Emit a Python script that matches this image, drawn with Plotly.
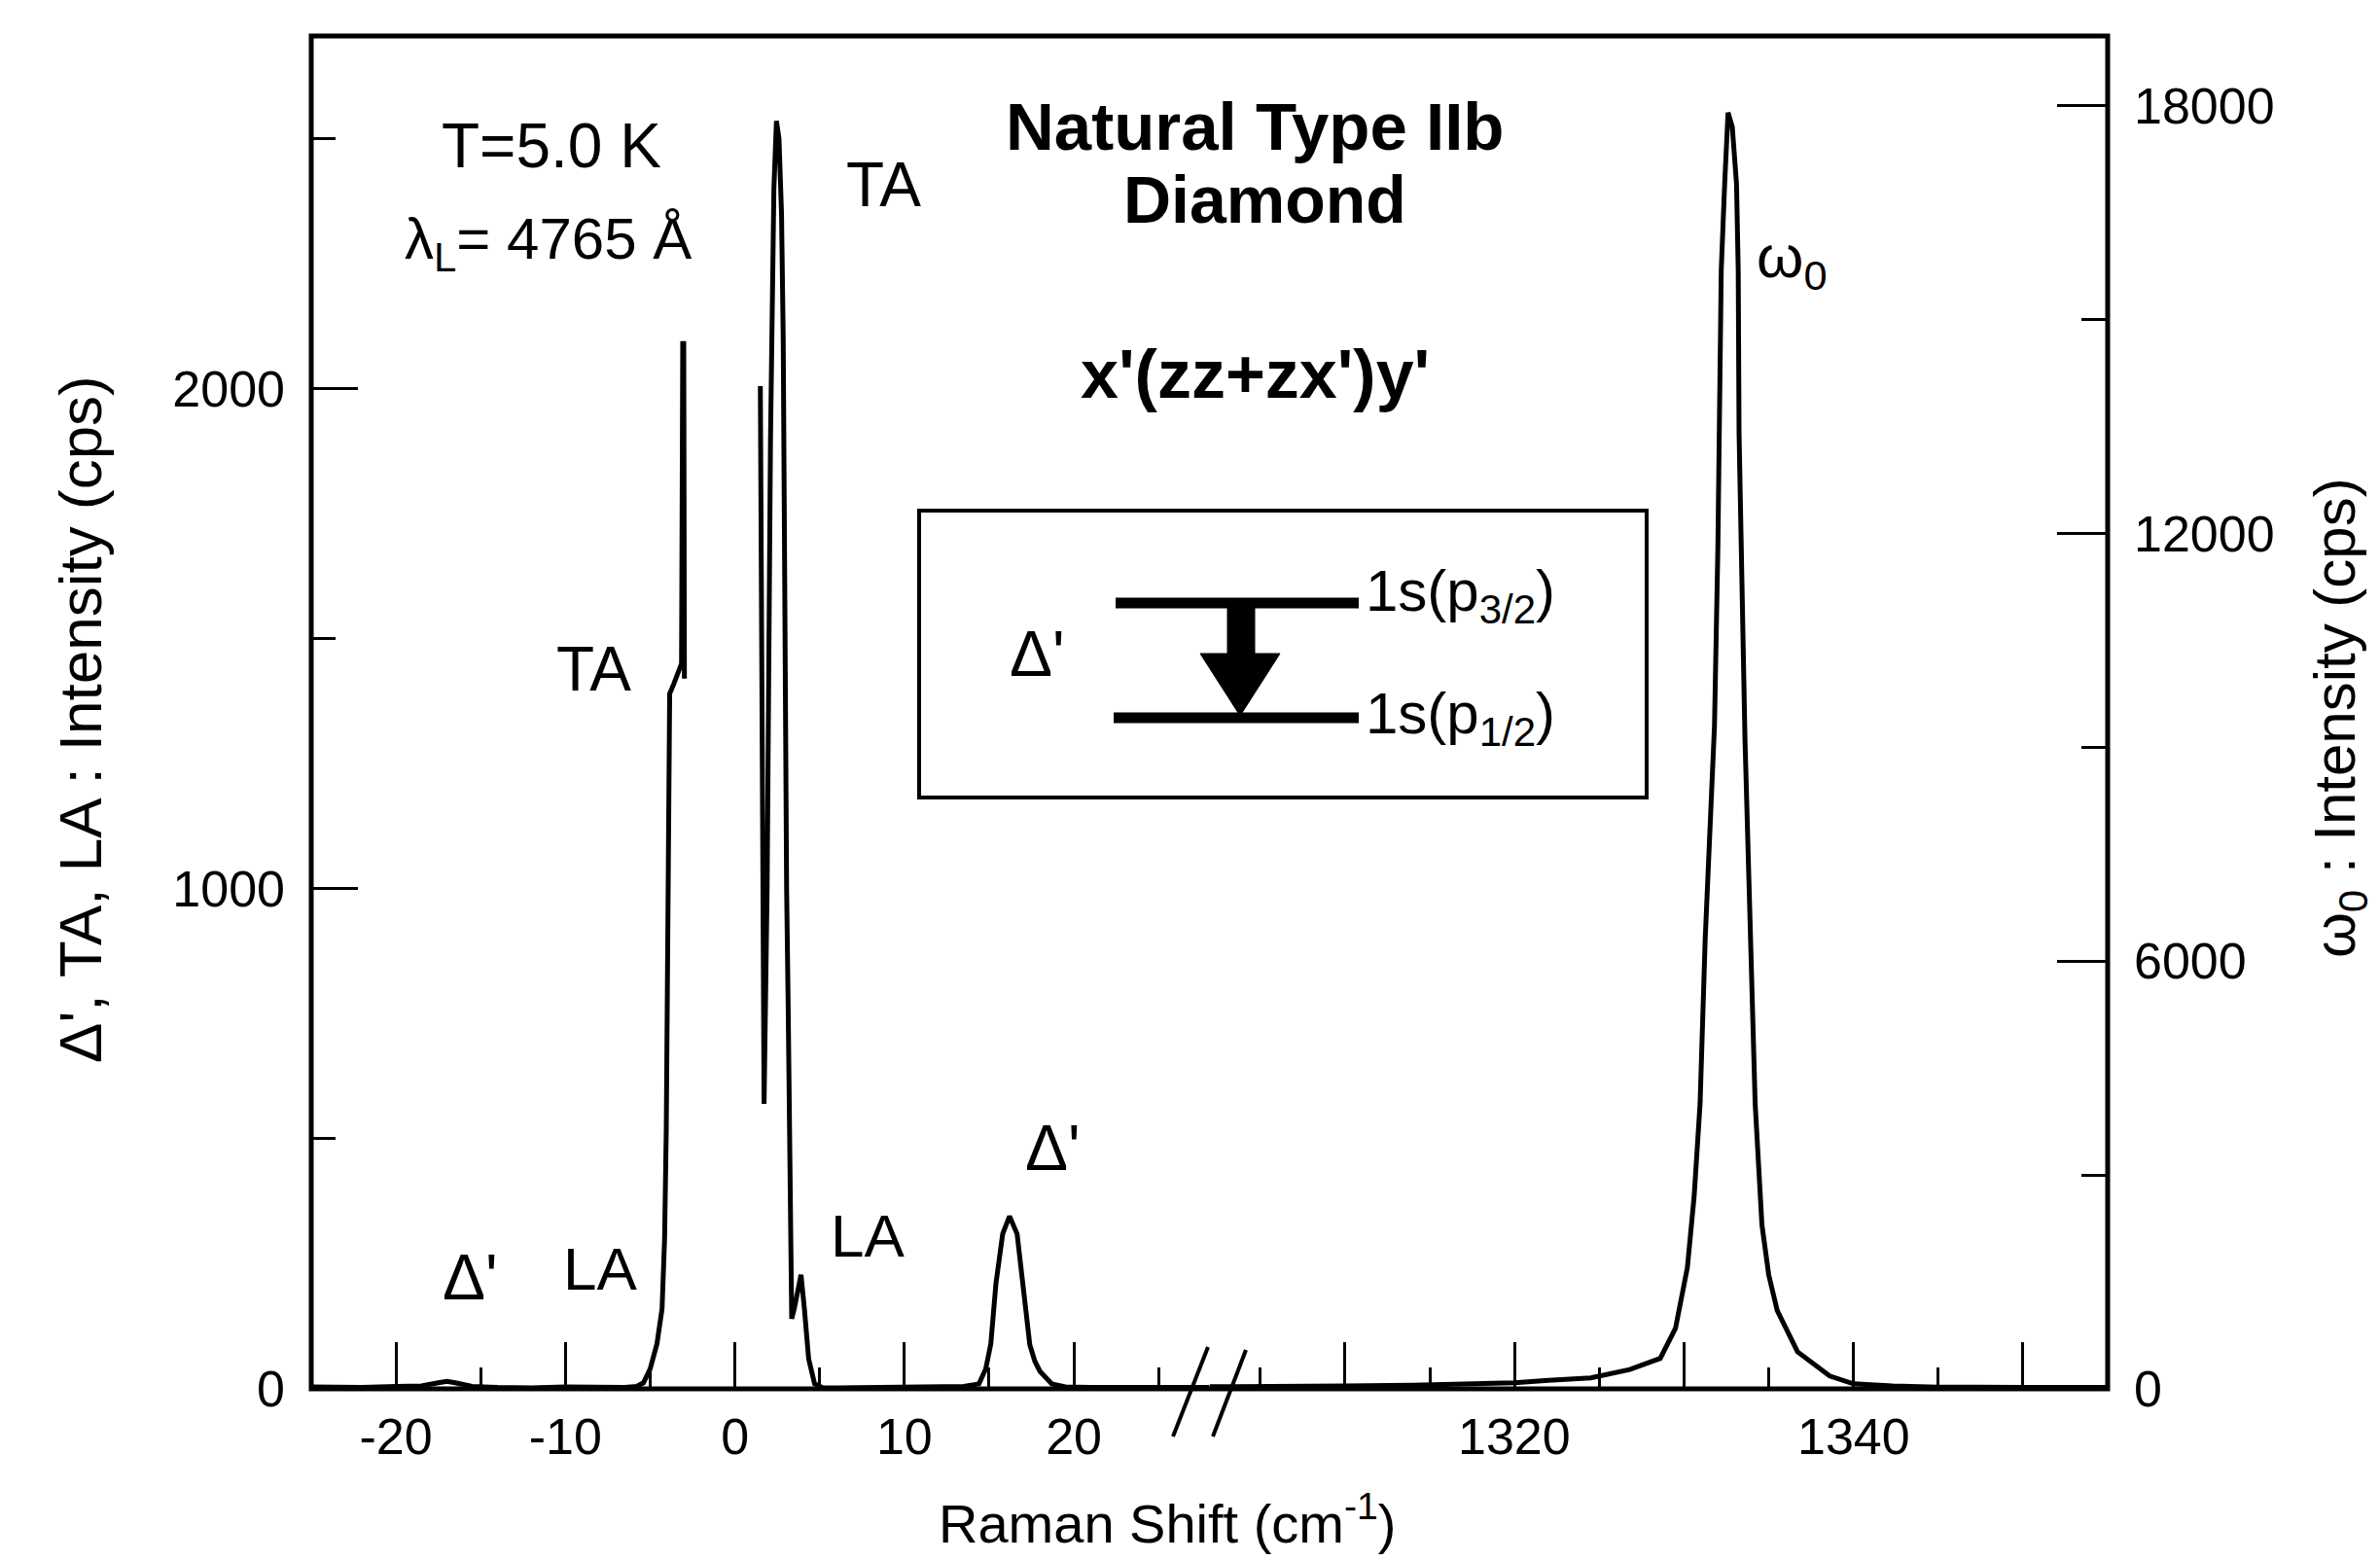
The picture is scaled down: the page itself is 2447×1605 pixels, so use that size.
import plotly.graph_objects as go

# ---------------- data ----------------
# anti-Stokes side (left axis, cps)
as_shift = [-25, -22, -20, -18.5, -17.5, -17, -16.5, -15.5, -14, -12, -10, -8, -6.5, -5.8,
            -5.4, -5.0, -4.6, -4.3, -4.15, -4.05, -3.98, -3.92, -3.85, -3.6, -3.35, -3.15,
            -3.08, -3.02, -2.98]
as_int = [4, 3, 5, 6, 12, 15, 12, 5, 3, 2, 4, 3, 3, 5,
          12, 40, 90, 160, 300, 520, 800, 1100, 1390, 1410, 1430, 1450,
          2090, 2090, 1420]

# Stokes side (left axis, cps)
st_shift = [1.5, 1.6, 1.72, 1.9, 2.1, 2.3, 2.45, 2.6, 2.75, 2.85, 2.95, 3.05, 3.14, 3.24,
            3.35, 3.5, 3.7, 3.9, 4.1, 4.35, 4.7, 5.2, 6, 8, 10, 12, 13.5, 14.4, 14.8, 15.1,
            15.4, 15.8, 16.2, 16.65, 16.95, 17.15, 17.4, 17.7, 18.0, 18.7, 19.5, 21, 24, 28]
st_int = [2005, 1300, 570, 1000, 1900, 2400, 2535, 2500, 2350, 2100, 1400, 1000, 770, 410,
          140, 160, 200, 228, 160, 60, 10, 2, 2, 3, 2, 3, 5, 10, 40, 90,
          210, 310, 345, 310, 215, 150, 88, 55, 35, 10, 4, 3, 2, 3]

# optical phonon omega_0 (right axis, cps)
w0_shift = [1302, 1306, 1310, 1314, 1318, 1320, 1322, 1324.5, 1326.8, 1327.7, 1328.6, 1329.5,
            1330.2, 1330.6, 1330.95, 1331.25, 1331.55, 1331.8, 1332.0, 1332.1, 1332.2, 1332.4,
            1332.6, 1332.85, 1333.1, 1333.2, 1333.25, 1333.6, 1333.9, 1334.2, 1334.6, 1335.0,
            1335.5, 1336.7, 1338.6, 1340, 1342.3, 1345, 1350, 1355]
w0_int = [30, 30, 40, 50, 70, 86, 120, 154, 270, 341, 427, 850,
          1700, 2700, 4000, 6300, 7800, 9300, 11800, 13400, 15700, 16900,
          17900, 17700, 16900, 15700, 13400, 9100, 6400, 4000, 2300, 1600,
          1100, 520, 180, 70, 40, 25, 20, 20]

# axis ticks
low_major = [-20, -10, 0, 10, 20]
low_minor = [-15, -5, 5, 15, 25]
high_major = [1310, 1320, 1330, 1340, 1350]
high_labels = [1320, 1340]
high_minor = [1305, 1315, 1325, 1335, 1345]
yl_major = [0, 1000, 2000]
yl_minor = [500, 1500, 2500]
yr_major = [0, 6000, 12000, 18000]
yr_minor = [3000, 9000, 15000]

# ---------------- layout geometry ----------------
W, H = 2447, 1605
L, R, T, B = 320, 2167, 37, 1428
FONT = "Arial, Liberation Sans, sans-serif"


def px(X, Y):
    return (X - L) / (R - L), (B - Y) / (B - T)


fig = go.Figure()
line = dict(color="black", width=5)
fig.add_trace(go.Scatter(x=as_shift, y=as_int, mode="lines", line=line,
                         xaxis="x", yaxis="y", showlegend=False))
fig.add_trace(go.Scatter(x=st_shift, y=st_int, mode="lines", line=line,
                         xaxis="x", yaxis="y", showlegend=False))
fig.add_trace(go.Scatter(x=w0_shift, y=w0_int, mode="lines", line=line,
                         xaxis="x2", yaxis="y2", showlegend=False))

tickfont = dict(family=FONT, size=52, color="black")
common_x = dict(ticks="inside", ticklen=48, tickwidth=3, tickcolor="black",
                showgrid=False, zeroline=False, showline=False, tickfont=tickfont,
                ticklabelstandoff=14)

fig.update_layout(
    width=W, height=H,
    margin=dict(l=L, r=W - R, t=T, b=H - B),
    paper_bgcolor="white", plot_bgcolor="white",
    showlegend=False,
    xaxis=dict(domain=[0, 0.5], range=[-25, 28], anchor="y",
               tickmode="array", tickvals=low_major,
               ticktext=[str(v) for v in low_major],
               minor=dict(tickmode="array", tickvals=low_minor, ticks="inside",
                          ticklen=22, tickwidth=3, tickcolor="black"),
               **common_x),
    xaxis2=dict(domain=[0.5, 1], range=[1302, 1355], anchor="y2",
                tickmode="array", tickvals=high_major, showticklabels=False,
                minor=dict(tickmode="array", tickvals=high_minor, ticks="inside",
                           ticklen=22, tickwidth=3, tickcolor="black"),
                **common_x),
    yaxis=dict(range=[0, 2705], anchor="x", side="left",
               tickmode="array", tickvals=yl_major, ticktext=[str(v) for v in yl_major],
               ticks="inside", ticklen=48, tickwidth=3, tickcolor="black",
               minor=dict(tickmode="array", tickvals=yl_minor, ticks="inside",
                          ticklen=25, tickwidth=3, tickcolor="black"),
               showgrid=False, zeroline=False, showline=False, tickfont=tickfont,
               ticklabelstandoff=26),
    yaxis2=dict(range=[0, 18975], anchor="x2", side="right", overlaying="y",
                tickmode="array", tickvals=yr_major, ticktext=[str(v) for v in yr_major],
                ticks="inside", ticklen=52, tickwidth=3, tickcolor="black",
                minor=dict(tickmode="array", tickvals=yr_minor, ticks="inside",
                           ticklen=27, tickwidth=3, tickcolor="black"),
                showgrid=False, zeroline=False, showline=False, tickfont=tickfont,
                ticklabelstandoff=26),
)

shapes = []
# outer frame
shapes.append(dict(type="rect", xref="paper", yref="paper", x0=0, x1=1, y0=0, y1=1,
                   line=dict(color="black", width=5), layer="above"))
# axis break marks //
for (xa, ya, xb, yb) in [(1206, 1477, 1242, 1385), (1247, 1477, 1281, 1388)]:
    a = px(xa, ya)
    b = px(xb, yb)
    shapes.append(dict(type="line", xref="paper", yref="paper", x0=a[0], y0=a[1],
                       x1=b[0], y1=b[1], line=dict(color="black", width=4)))
# inset box
a = px(945, 820)
b = px(1693, 525)
shapes.append(dict(type="rect", xref="paper", yref="paper", x0=a[0], y0=a[1],
                   x1=b[0], y1=b[1], line=dict(color="black", width=4)))
# energy levels
for (xa, xb, yy) in [(1147, 1397, 620), (1145, 1397, 738)]:
    a = px(xa, yy)
    b = px(xb, yy)
    shapes.append(dict(type="line", xref="paper", yref="paper", x0=a[0], y0=a[1],
                       x1=b[0], y1=b[1], line=dict(color="black", width=11)))
# fat arrow
pts = [(1262, 622), (1290, 622), (1290, 672), (1316, 672), (1275, 736), (1234, 672), (1262, 672)]
path = "M " + " L ".join(f"{px(x, y)[0]:.5f},{px(x, y)[1]:.5f}" for x, y in pts) + " Z"
shapes.append(dict(type="path", xref="paper", yref="paper", path=path,
                   fillcolor="black", line=dict(color="black", width=1)))
fig.update_layout(shapes=shapes)

# text annotations: (text, X, Y, size, bold, xanchor)
labels = [
    ("T=5.0 K", 567, 150, 64, False, "center"),
    ("λ<sub>L</sub>= 4765 Å", 563, 250, 60, False, "center"),
    ("TA", 908, 190, 64, False, "center"),
    ("Natural Type IIb", 1290, 130, 69, True, "center"),
    ("Diamond", 1300, 205, 68, True, "center"),
    ("x'(zz+zx')y'", 1290, 385, 70, True, "center"),
    ("ω<sub>0</sub>", 1842, 268, 62, False, "center"),
    ("TA", 610, 688, 64, False, "center"),
    ("Δ'", 1066, 672, 66, False, "center"),
    ("1s(p<sub>3/2</sub>)", 1402, 612, 60, False, "left"),
    ("1s(p<sub>1/2</sub>)", 1402, 738, 60, False, "left"),
    ("Δ'", 1082, 1180, 66, False, "center"),
    ("LA", 892, 1270, 62, False, "center"),
    ("LA", 617, 1304, 62, False, "center"),
    ("Δ'", 483, 1313, 66, False, "center"),
]
ann = []
for text, X, Y, size, bold, xa in labels:
    x, y = px(X, Y)
    if bold:
        text = f"<b>{text}</b>"
    ann.append(dict(text=text, x=x, y=y, xref="paper", yref="paper", showarrow=False,
                    xanchor=xa, yanchor="middle",
                    font=dict(family=FONT, size=size, color="black")))

# tick labels of the high-shift segment (only 1320 and 1340 are labelled)
for v in high_labels:
    ann.append(dict(text=str(v), x=v, y=px(0, 1477)[1], xref="x2", yref="paper",
                    showarrow=False, xanchor="center", yanchor="middle",
                    font=tickfont))

# axis titles
x, y = px(1200, 1562)
ann.append(dict(text="Raman Shift (cm<sup>-1</sup>)", x=x, y=y, xref="paper", yref="paper",
                showarrow=False, xanchor="center", yanchor="middle",
                font=dict(family=FONT, size=56, color="black")))
x, y = px(82, 740)
ann.append(dict(text="Δ', TA, LA : Intensity (cps)", x=x, y=y, xref="paper", yref="paper",
                showarrow=False, xanchor="center", yanchor="middle", textangle=-90,
                font=dict(family=FONT, size=62, color="black")))
x, y = px(2405, 738)
ann.append(dict(text="ω<sub>0</sub> : Intensity (cps)", x=x, y=y, xref="paper", yref="paper",
                showarrow=False, xanchor="center", yanchor="middle", textangle=-90,
                font=dict(family=FONT, size=60, color="black")))
fig.update_layout(annotations=ann)

fig.write_html("out.html")
